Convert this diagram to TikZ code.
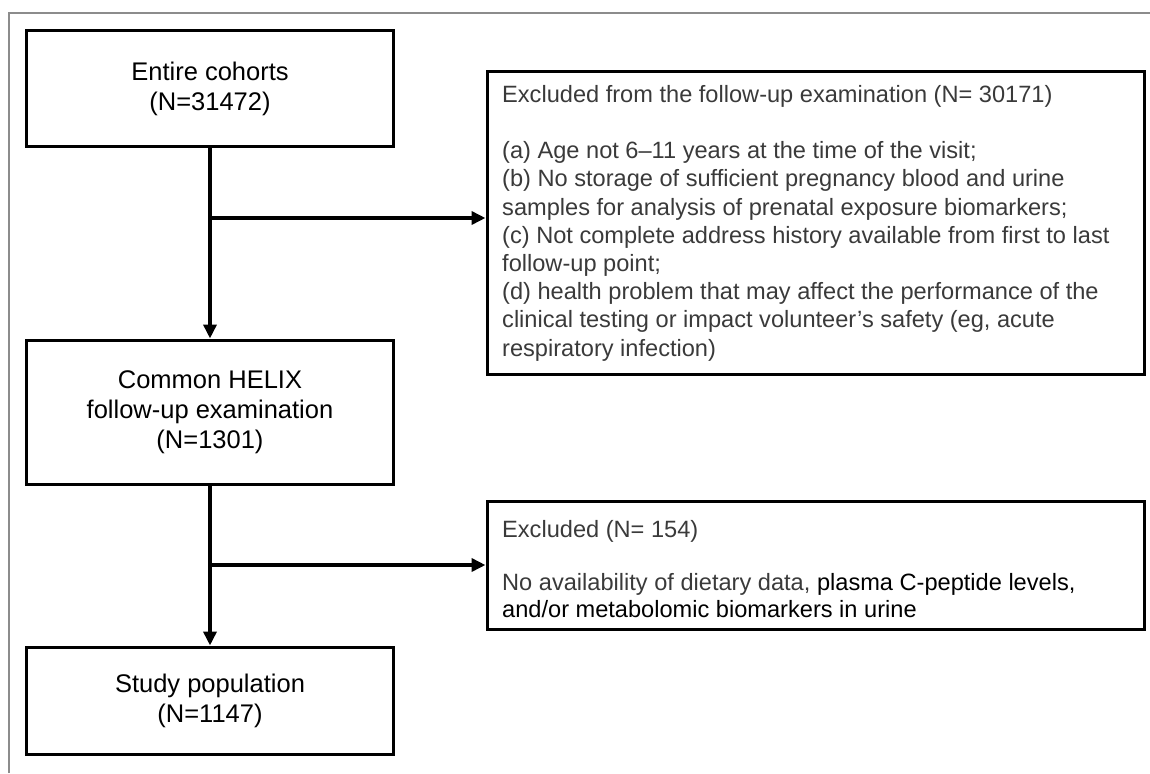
\documentclass[tikz,border=0pt]{standalone}
\usepackage{fontspec}
\setmainfont{Liberation Sans}
\usetikzlibrary{arrows.meta}
\definecolor{txtgray}{HTML}{3A3A3A}
\definecolor{framegray}{HTML}{8C8C8C}
\begin{document}
\begin{tikzpicture}[x=1pt,y=-1pt,
  leftbox/.style={draw=black,line width=3pt,minimum width=367pt,align=center,
    font=\fontsize{25.5}{30}\selectfont,text=black,inner sep=0pt},
  rightbox/.style={draw=black,line width=3pt,minimum width=657pt,inner sep=0pt},
  righttext/.style={anchor=north west,align=left,inner sep=0pt,
    font=\fontsize{23.6}{28.2}\selectfont,text=txtgray},
  conn/.style={line width=4pt,draw=black},
  arr/.style={conn,-{Triangle[length=14pt,width=13pt]}}]
\useasboundingbox (0,0) rectangle (1150,773);
\draw[framegray,line width=1.3pt] (9,773) -- (9,13) -- (1150,13);

\node[leftbox,minimum height=115pt] (entire) at (210,88.5) {Entire cohorts\\(N=31472)};
\node[leftbox,minimum height=144pt] (helix) at (210,412) {Common HELIX\\follow-up examination\\(N=1301)};
\node[leftbox,minimum height=107pt] (study) at (210,700.5) {Study population\\(N=1147)};

\node[rightbox,minimum height=302pt] (excl1) at (815.5,223) {};
\node[rightbox,minimum height=128pt] (excl2) at (815.5,565) {};

\node[righttext] (excl1text) at (502,85) {Excluded from the follow-up examination (N= 30171)\\[28.2pt]
(a) Age not 6--11 years at the time of the visit;\\
(b) No storage of sufficient pregnancy blood and urine\\
samples for analysis of prenatal exposure biomarkers;\\
(c) Not complete address history available from first to last\\
follow-up point;\\
(d) health problem that may affect the performance of the\\
clinical testing or impact volunteer’s safety (eg, acute\\
respiratory infection)};

\node[righttext,font=\fontsize{23.6}{27}\selectfont] (excl2text) at (502,520) {Excluded (N= 154)\\[26pt]
No availability of dietary data, {\color{black}plasma C-peptide levels,}\\
{\color{black}and/or metabolomic biomarkers in urine}};

\coordinate (j1) at (210,218);
\coordinate (j2) at (210,565);
\draw[arr] (entire) -- (helix);
\draw[arr] (j1) -- (j1 -| excl1.west);
\draw[arr] (helix) -- (study);
\draw[arr] (j2) -- (j2 -| excl2.west);
\end{tikzpicture}
\end{document}
